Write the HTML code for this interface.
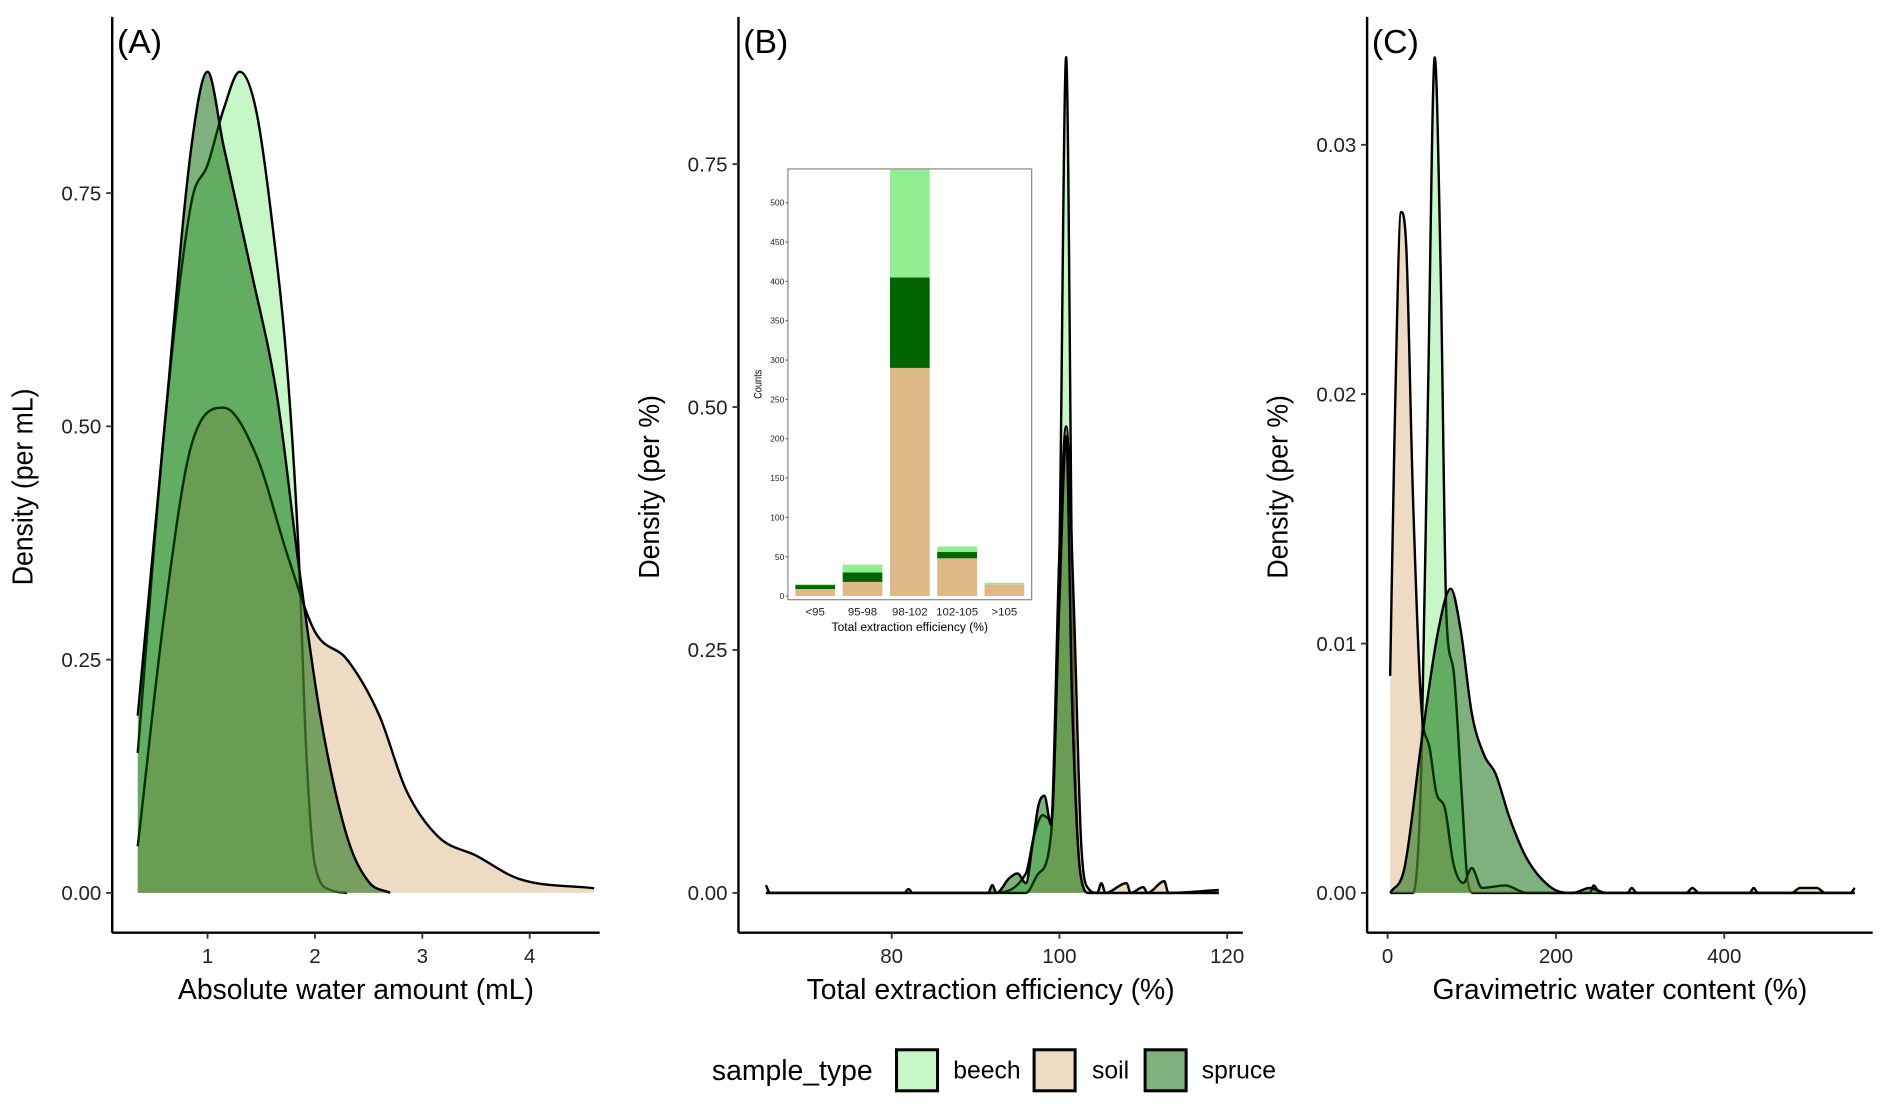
<!DOCTYPE html>
<html><head><meta charset="utf-8"><style>
html,body{margin:0;padding:0;background:#fff}
svg{display:block;font-family:"Liberation Sans",sans-serif}
</style></head><body>
<svg id="c" width="1892" height="1113" viewBox="0 0 1568 922.4" preserveAspectRatio="none"></svg>
<script>
// Panel A: absolute water amount
const aBeech=[[0.35,0.15],[0.6,0.5],[0.85,0.74],[1.0,0.78],[1.15,0.84],[1.3,0.88],[1.45,0.84],[1.6,0.72],[1.75,0.55],[1.85,0.36],[1.92,0.15],[2.0,0.03],[2.15,0.003],[2.3,0]];
const aSoil=[[0.35,0.05],[0.6,0.3],[0.85,0.48],[1.15,0.52],[1.45,0.47],[1.75,0.36],[2.0,0.28],[2.3,0.25],[2.6,0.19],[2.85,0.11],[3.15,0.06],[3.5,0.04],[3.9,0.015],[4.6,0.005]];
const aSpruce=[[0.35,0.19],[0.6,0.5],[0.85,0.8],[1.0,0.88],[1.15,0.8],[1.4,0.67],[1.65,0.53],[1.85,0.35],[2.05,0.19],[2.3,0.06],[2.5,0.012],[2.7,0]];
const aXTicks=[1,2,3,4];
const aYTicks=[0,0.25,0.5,0.75];
// Panel B: total extraction efficiency
const bBeech=[[65,0.008],[65.5,0],[92,0],[96,0.02],[97,0.06],[98,0.08],[99,0.075],[100,0.35],[100.8,0.86],[101.6,0.25],[102.5,0.02],[103.5,0],[119,0]];
const bSoil=[[65,0],[81.5,0],[82,0.004],[82.5,0],[96,0],[97.5,0.02],[99,0.06],[100,0.35],[100.8,0.48],[101.7,0.3],[102.6,0.05],[103.5,0.004],[104.5,0],[105,0.01],[105.5,0],[108,0.01],[108.5,0],[110,0.006],[110.5,0],[112.5,0.012],[113,0],[119,0.003]];
const bSpruce=[[65,0],[91.5,0],[92,0.008],[92.5,0],[94,0.015],[95,0.02],[96,0.01],[96.8,0.05],[97.5,0.09],[98.2,0.1],[99,0.07],[100,0.3],[100.8,0.47],[101.5,0.2],[102.5,0.02],[103.5,0],[119,0]];
const bXTicks=[80,100,120];
const bYTicks=[0,0.25,0.5,0.75];
// Inset: counts
const insetCats=["<95","95-98","98-102","102-105",">105"];
const insetSoil=[9,18,290,48,15];
const insetSpruce=[5,12,115,8,0];
const insetBeech=[1,10,137,7,2];
const insetTicks=[0,50,100,150,200,250,300,350,400,450,500];
// Panel C: gravimetric water content
const cBeech=[[3,0],[30,0],[40,0.005],[48,0.02],[56,0.0335],[63,0.025],[70,0.011],[78,0.009],[88,0.004],[95,0.0005],[102,0],[555,0]];
const cSoil=[[3,0.0087],[8,0.018],[16,0.0273],[22,0.026],[30,0.016],[40,0.0075],[50,0.0058],[58,0.004],[68,0.0034],[78,0.0012],[90,0.0004],[100,0.001],[112,0.0002],[140,0.0003],[165,0],[240,0],[245,0.0003],[252,0],[285,0],[290,0.0002],[296,0],[355,0],[362,0.0002],[370,0],[430,0],[435,0.0002],[440,0],[480,0],[490,0.0002],[510,0.0002],[520,0],[550,0],[555,0.0002]];
const cSpruce=[[3,0],[20,0.001],[40,0.006],[60,0.0105],[75,0.0122],[87,0.0105],[100,0.0072],[115,0.0055],[128,0.0048],[145,0.003],[165,0.0014],[195,0.0002],[220,0],[240,0.0002],[260,0],[555,0]];
const cXTicks=[0,200,400];
const cYTicks=[0,0.01,0.02,0.03];

const NS="http://www.w3.org/2000/svg";
const svg=document.getElementById('c');
function mk(tag,attrs,parent){const e=document.createElementNS(NS,tag);for(const k in attrs)e.setAttribute(k,attrs[k]);(parent||svg).appendChild(e);return e;}
function txt(s,attrs,parent){const e=mk('text',attrs,parent);e.textContent=s;return e;}
function lin(d0,d1,r0,r1){return v=>r0+(v-d0)/(d1-d0)*(r1-r0);}
function smooth(p){const n=p.length;const d=[],m=[];
  for(let i=0;i<n-1;i++)d.push((p[i+1][1]-p[i][1])/(p[i+1][0]-p[i][0]));
  m[0]=d[0];m[n-1]=d[n-2];
  for(let i=1;i<n-1;i++){m[i]=(d[i-1]*d[i]<=0)?0:(d[i-1]+d[i])/2;}
  for(let i=0;i<n-1;i++){if(d[i]===0){m[i]=0;m[i+1]=0;continue;}const a=m[i]/d[i],b=m[i+1]/d[i],s=a*a+b*b;if(s>9){const t=3/Math.sqrt(s);m[i]=t*a*d[i];m[i+1]=t*b*d[i];}}
  let s="M"+p[0][0]+","+p[0][1];
  for(let i=0;i<n-1;i++){const h=(p[i+1][0]-p[i][0])/3;s+=" C"+(p[i][0]+h)+","+(p[i][1]+m[i]*h)+" "+(p[i+1][0]-h)+","+(p[i+1][1]-m[i+1]*h)+" "+p[i+1][0]+","+p[i+1][1];}
  return s;}
const COL={beech:"#90ee90",soil:"#deb887",spruce:"#006400"};

function panel(cfg){
  const g=mk('g',{},svg);
  
  
  const X=lin(cfg.xd[0],cfg.xd[1],cfg.xr[0],cfg.xr[1]);
  const Y=lin(cfg.yd[0],cfg.yd[1],cfg.yr[0],cfg.yr[1]);
  cfg.series.forEach(s=>{
    const pts=s.data.map(p=>[X(p[0]),Y(p[1])]);
    const line=smooth(pts);
    const area=line+" L"+pts[pts.length-1][0]+","+Y(0)+" L"+pts[0][0]+","+Y(0)+" Z";
    const a=mk('path',{d:area,fill:COL[s.key],'fill-opacity':0.5,stroke:'none'},g);
    
    
    const l=mk('path',{d:line,fill:'none',stroke:'#000','stroke-width':2,'stroke-linejoin':'round'},g);
    
    
  });
  mk('line',{x1:cfg.ax,y1:cfg.top,x2:cfg.ax,y2:cfg.ay,stroke:'#000','stroke-width':2},g);
  mk('line',{x1:cfg.ax,y1:cfg.ay,x2:cfg.right,y2:cfg.ay,stroke:'#000','stroke-width':2},g);
  cfg.yt.forEach(v=>{const y=Y(v);mk('line',{x1:cfg.ax-5,y1:y,x2:cfg.ax,y2:y,stroke:'#333','stroke-width':1.5},g);
    const t=txt(cfg.yf(v),{x:cfg.ax-9,y:y+6,'text-anchor':'end','font-size':17,fill:'#222'},g);
    });
  cfg.xt.forEach(v=>{const x=X(v);mk('line',{x1:x,y1:cfg.ay,x2:x,y2:cfg.ay+5,stroke:'#333','stroke-width':1.5},g);
    const t=txt(String(v),{x:x,y:cfg.ay+25,'text-anchor':'middle','font-size':17,fill:'#222'},g);
    });
  const xt=txt(cfg.xtitle,{x:(cfg.ax+cfg.right)/2,y:cfg.ay+55,'text-anchor':'middle','font-size':23.5,fill:'#000'},g);
  
  const cy=(cfg.top+cfg.ay)/2+10;
  const yt=txt(cfg.ytitle,{x:0,y:0,'text-anchor':'middle','font-size':24,fill:'#000',transform:'translate('+(cfg.ax-66)+','+cy+') rotate(-90) scale(0.92,1)'},g);
  
  const pl=txt(cfg.label,{x:cfg.ax+4,y:44,'font-size':28,fill:'#000'},g);
  
}

panel({name:'panel-a',xd:[1,4],xr:[172,439],yd:[0,0.75],yr:[740,160],ax:93,ay:773,top:14,right:497,
  series:[{key:'beech',data:aBeech},{key:'soil',data:aSoil},{key:'spruce',data:aSpruce}],
  xt:aXTicks,yt:aYTicks,yf:v=>v.toFixed(2),xtitle:'Absolute water amount (mL)',ytitle:'Density (per mL)',label:'(A)'});
panel({name:'panel-b',xd:[80,120],xr:[739,1017],yd:[0,0.75],yr:[740,136],ax:612,ay:773,top:14,right:1030,
  series:[{key:'beech',data:bBeech},{key:'soil',data:bSoil},{key:'spruce',data:bSpruce}],
  xt:bXTicks,yt:bYTicks,yf:v=>v.toFixed(2),xtitle:'Total extraction efficiency (%)',ytitle:'Density (per %)',label:'(B)'});
panel({name:'panel-c',xd:[0,400],xr:[1150,1429],yd:[0,0.03],yr:[740,120],ax:1133,ay:773,top:14,right:1552,
  series:[{key:'beech',data:cBeech},{key:'soil',data:cSoil},{key:'spruce',data:cSpruce}],
  xt:cXTicks,yt:cYTicks,yf:v=>v.toFixed(2),xtitle:'Gravimetric water content (%)',ytitle:'Density (per %)',label:'(C)'});

// inset
(function(){
  const g=mk('g',{},svg);
  
  
  const L=653,R=855,T=140,B=497;
  mk('rect',{x:L,y:T,width:R-L,height:B-T,fill:'#fff',stroke:'none'},g);
  const Y=lin(0,500,494,168);
  const step=(R-L-6)/insetCats.length, bw=step*0.84;
  insetCats.forEach((c,i)=>{
    const cx=L+3+step*(i+0.5);
    let base=0;
    [['soil',insetSoil[i]],['spruce',insetSpruce[i]],['beech',insetBeech[i]]].forEach(([k,v])=>{
      if(v<=0)return;
      const y0=Y(base),y1=Math.max(Y(base+v),T);
      const r=mk('rect',{x:cx-bw/2,y:y1,width:bw,height:y0-y1,fill:COL[k]},g);
      
      
      base+=v;
    });
    const t=txt(c,{x:cx,y:B+13,'text-anchor':'middle','font-size':9.5,fill:'#222'},g);
    
  });
  mk('rect',{x:L,y:T,width:R-L,height:B-T,fill:'none',stroke:'#888','stroke-width':1},g);
  insetTicks.forEach(v=>{const y=Y(v);mk('line',{x1:L-2,y1:y,x2:L,y2:y,stroke:'#555','stroke-width':0.8},g);
    const t=txt(String(v),{x:L-3,y:y+2.5,'text-anchor':'end','font-size':7,fill:'#222'},g);
    });
  const xt=txt('Total extraction efficiency (%)',{x:(L+R)/2,y:B+26,'text-anchor':'middle','font-size':10,fill:'#000'},g);
  
  const yt=txt('Counts',{x:0,y:0,'text-anchor':'middle','font-size':9,fill:'#000',transform:'translate('+(L-22)+','+((T+B)/2)+') rotate(-90) scale(0.85,1)'},g);
  
})();

// legend
(function(){
  const g=mk('g',{},svg);
  
  
  const t=txt('sample_type',{x:590,y:895,'font-size':23.5,fill:'#000'},g);
  
  [['beech',742,790],['soil',856,905],['spruce',948,996]].forEach(([k,bx,tx])=>{
    const r=mk('rect',{x:bx+1,y:870,width:34,height:34,fill:COL[k],'fill-opacity':0.5,stroke:'#000','stroke-width':2.5},g);
    
    const l=txt(k,{x:tx,y:894,'font-size':20.5,fill:'#000'},g);
    
  });
})();
</script>
</body></html>
